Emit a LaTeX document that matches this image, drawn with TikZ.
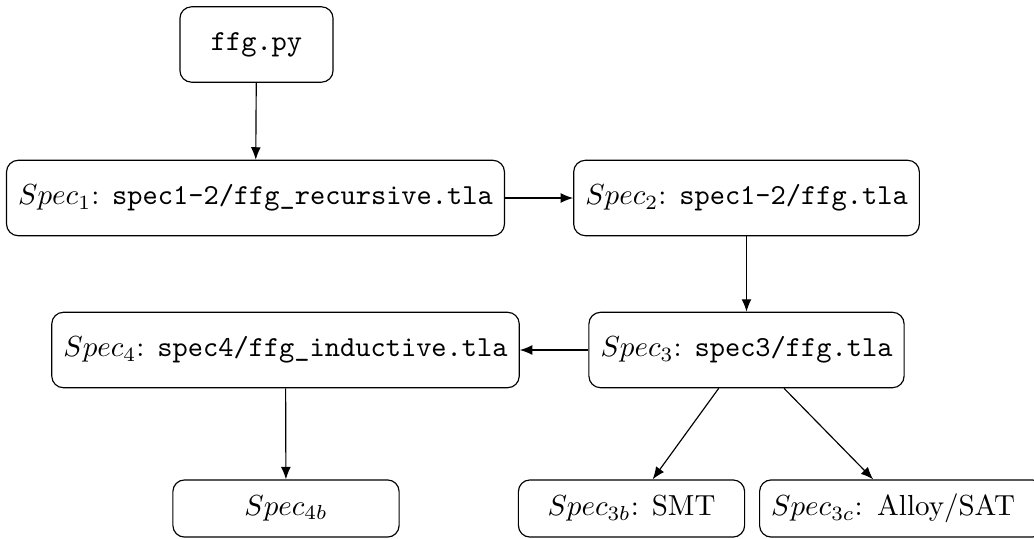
\documentclass[tikz,border=0pt]{standalone}
\usepackage{amssymb, amsmath}
\usepackage{tikz}
\usetikzlibrary{arrows.meta}

\tikzset{
  specbox/.style={draw, rounded corners, inner xsep=4pt, minimum height=26pt},
  leafbox/.style={draw, rounded corners, inner xsep=4pt, minimum height=19.7pt, minimum width=78pt},
  specarrow/.style={-{Latex[length=4.3pt, width=3.4pt]}},
}

\begin{document}
\begin{tikzpicture}[x=0.3448pt, y=-0.3448pt]
    \useasboundingbox (0,0) rectangle (1034,538);
    % Draw the specification boxes
    \node[specbox, minimum width=52.8pt] (ffg) at (256.5,44.5) {\texttt{ffg.py}};
    \node[specbox] (spec1) at (255.5,198) {$Spec_1$: \texttt{spec1-2/ffg\_recursive.tla}};
    \node[specbox] (spec2) at (746.5,198) {$Spec_2$: \texttt{spec1-2/ffg.tla}};
    \node[specbox] (spec3) at (746.5,350) {$Spec_3$: \texttt{spec3/ffg.tla}};
    \node[specbox] (spec4) at (285.5,350) {$Spec_4$: \texttt{spec4/ffg\_inductive.tla}};
    % Draw the leaves
    \node[leafbox] (spec4b) at (286,508.5) {$Spec_{4b}$};
    \node[leafbox] (spec3b) at (631.5,508.5) {$Spec_{3b}$: SMT};
    \node[leafbox, anchor=west, text width=90pt, align=left] (spec3c) at (759,508.5) {$Spec_{3c}$: Alloy/SAT};
    % Draw the arrows
    \draw[specarrow] (ffg) -- (spec1);
    \draw[specarrow] (spec1) -- (spec2);
    \draw[specarrow] (spec2) -- (spec3);
    \draw[specarrow] (spec3) -- (spec4);
    \draw[specarrow] (spec4) -- (spec4b);
    \draw[specarrow] (spec3) -- (spec3b);
    \draw[specarrow] (spec3) -- (spec3c);
\end{tikzpicture}
\end{document}
